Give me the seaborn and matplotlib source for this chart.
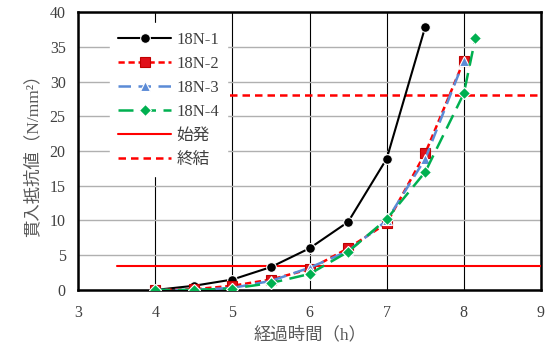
import matplotlib
matplotlib.use("Agg")
import matplotlib.pyplot as plt
import seaborn as sns
import pandas as pd

# Penetration resistance readings over elapsed time
time_1 = [4.0, 4.5, 5.0, 5.5, 6.0, 6.5, 7.0, 7.5]
res_1 = [0.0, 0.6, 1.5, 3.3, 6.0, 9.8, 18.9, 37.9]

time_2 = [4.0, 4.5, 5.0, 5.5, 6.0, 6.5, 7.0, 7.5, 8.0]
res_2 = [0.0, 0.1, 0.6, 1.5, 3.0, 6.0, 9.6, 19.7, 33.0]

time_3 = [4.0, 4.5, 5.0, 5.5, 6.0, 6.5, 7.0, 7.5, 8.0]
res_3 = [0.0, 0.0, 0.3, 1.3, 3.2, 5.6, 10.0, 18.9, 33.0]

time_4 = [4.0, 4.5, 5.0, 5.5, 6.0, 6.5, 7.0, 7.5, 8.0, 8.15]
res_4 = [0.0, 0.0, 0.2, 1.0, 2.3, 5.5, 10.2, 17.0, 28.3, 36.3]

# Initial / final setting thresholds
limit_x = [3.5, 9.0]
initial_set = [3.5, 3.5]
final_set = [28.0, 28.0]

series_names = ["18N-1", "18N-2", "18N-3", "18N-4"]

sns.set_theme(style="white")
plt.rcParams["font.family"] = ["Liberation Serif", "Noto Sans CJK JP"]

fig, ax = plt.subplots(figsize=(5.47, 3.46), dpi=100)

styles = [
    dict(color="black", marker="o", linestyle="-", markersize=7, lw=1.5),
    dict(color="#FF0000", marker="s", linestyle=(0, (2.5, 1.5)), markersize=6.5, lw=1.8,
         markerfacecolor="#E0101A", markeredgecolor="#C00000"),
    dict(color="#5B8BD6", marker="^", linestyle=(0, (5, 3)), markersize=7, lw=1.8),
    dict(color="#00B050", marker="D", linestyle=(0, (6, 3)), markersize=6, lw=1.8),
]
data = [(time_1, res_1), (time_2, res_2), (time_3, res_3), (time_4, res_4)]

for name, (t, r), st in zip(series_names, data, styles):
    df = pd.DataFrame({"t": t, "r": r})
    kw = dict(st)
    color = kw.pop("color")
    sns.lineplot(data=df, x="t", y="r", ax=ax, color=color, label=name,
                 markeredgewidth=0.8, zorder=4, **kw)

sns.lineplot(x=limit_x, y=initial_set, ax=ax, color="#FF0000", lw=1.5,
             linestyle="-", label="始発", zorder=3)
sns.lineplot(x=limit_x, y=final_set, ax=ax, color="#FF0000", lw=1.8,
             linestyle=(0, (3, 2)), label="終結", zorder=3)

ax.set_xlim(3, 9)
ax.set_ylim(0, 40)
ax.set_xticks(range(3, 10))
ax.set_yticks(range(0, 41, 5))

ax.grid(axis="x", color="black", lw=0.8)
ax.grid(axis="y", color="#B0B0B0", lw=1.0)
ax.set_axisbelow(True)

for sp in ax.spines.values():
    sp.set_visible(True)
    sp.set_color("black")
    sp.set_linewidth(1.8)

ax.tick_params(axis="both", labelsize=11.5, labelcolor="#404040", length=0)
ax.tick_params(axis="x", pad=11)
ax.tick_params(axis="y", pad=9)

ax.set_xlabel("経過時間（h）", fontsize=12.5, color="#595959", labelpad=4)
ax.set_ylabel("貫入抵抗値（N/mm²）", fontsize=12.5, color="#595959", labelpad=6)

leg = ax.legend(loc="upper left", bbox_to_anchor=(0.05, 0.99), frameon=True,
                fontsize=12, handlelength=3.2, labelspacing=0.48, borderpad=0.5,
                handletextpad=0.3)
leg.get_frame().set_edgecolor("white")
leg.get_frame().set_facecolor("white")
leg.get_frame().set_alpha(1)
leg.get_frame().set_boxstyle("square", pad=0)
for txt in leg.get_texts():
    txt.set_color("#404040")

fig.subplots_adjust(left=0.143, right=0.989, top=0.965, bottom=0.162)
fig.savefig("out.png", dpi=100)
